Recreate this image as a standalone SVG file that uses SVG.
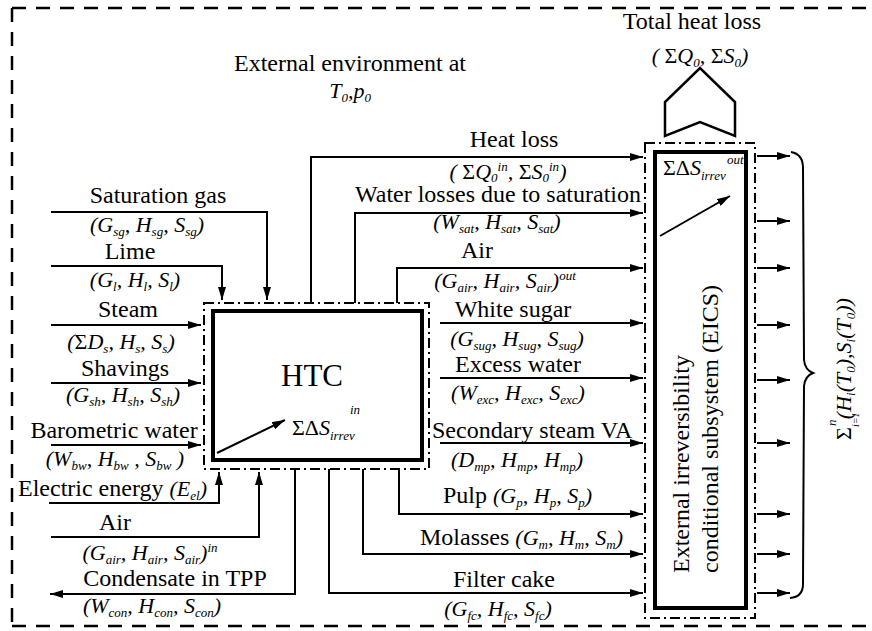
<svg xmlns="http://www.w3.org/2000/svg" width="872" height="631" viewBox="0 0 872 631">
<style>
.t{font-family:"Liberation Serif","Times New Roman","DejaVu Serif",serif;font-size:24px;fill:#000}
.f{font-family:"Liberation Serif","Times New Roman","DejaVu Serif",serif;font-size:22px;font-style:italic;fill:#000}
.s{font-size:13px}
.u{font-style:normal}
.c{fill:none;stroke:#000;stroke-width:2}
.dd{fill:none;stroke:#000;stroke-width:2;stroke-dasharray:10,4,2,4}
.thick{fill:none;stroke:#000;stroke-width:4}
</style>
<defs>
<marker id="ah" viewBox="0 0 13 8" refX="13" refY="4" markerWidth="13" markerHeight="8" orient="auto" markerUnits="userSpaceOnUse"><path d="M0,0 L13,4 L0,8 z" fill="#000"/></marker>
</defs>
<rect width="872" height="631" fill="#fff"/>
<path d="M12,8 H872 M12,8 V626 M12,626 H872" fill="none" stroke="#000" stroke-width="2.5" stroke-dasharray="14,10"/>

<text class="t" x="350" y="71" text-anchor="middle">External environment at</text>
<text class="f" x="350" y="98" text-anchor="middle">T<tspan class="s" dy="4">0</tspan><tspan dy="-4">,p</tspan><tspan class="s" dy="4">0</tspan></text>

<g id="total-heat-loss">
<text class="t" x="692" y="29" text-anchor="middle">Total heat loss</text>
<text class="f" x="700" y="63" text-anchor="middle">( <tspan class="u">Σ</tspan>Q<tspan class="s" dy="4">0</tspan><tspan dy="-4">, </tspan><tspan class="u">Σ</tspan>S<tspan class="s" dy="4">0</tspan><tspan dy="-4">)</tspan></text>
<polygon points="665,136 665,102 700,68 735,102 735,136 700,122" fill="none" stroke="#000" stroke-width="2.5"/>
</g>

<g id="HTC">
<rect class="dd" x="204" y="303" width="225" height="166"/>
<rect class="thick" x="213" y="311" width="209" height="149"/>
<text class="t" x="312" y="386" text-anchor="middle" style="font-size:31px">HTC</text>
<line class="c" x1="217" y1="453" x2="285" y2="420" marker-end="url(#ah)"/>
<text class="f" x="292" y="435"><tspan class="u">ΣΔ</tspan>S<tspan class="s" dy="5">irrev</tspan></text>
<text class="f s" x="350" y="414">in</text>
</g>

<g id="EICS">
<rect class="dd" x="645" y="143" width="110" height="475"/>
<rect class="thick" x="655" y="152" width="91" height="456"/>
<text class="f" x="663" y="175"><tspan class="u">ΣΔ</tspan>S<tspan class="s" dy="5">irrev</tspan></text>
<text class="f s" x="727" y="164">out</text>
<line class="c" x1="660" y1="236" x2="730" y2="196" marker-end="url(#ah)"/>
<text class="t" transform="translate(689,573) rotate(-90)">External irreversibility</text>
<text class="t" transform="translate(718,573) rotate(-90)">conditional subsystem (EICS)</text>
</g>

<g id="connectors">
<path class="c" d="M51,212 H267 V300" marker-end="url(#ah)"/>
<path class="c" d="M51,266 H222 V300" marker-end="url(#ah)"/>
<path class="c" d="M51,325 H201" marker-end="url(#ah)"/>
<path class="c" d="M51,383 H201" marker-end="url(#ah)"/>
<path class="c" d="M51,445 H201" marker-end="url(#ah)"/>
<path class="c" d="M49,503 H219 V472" marker-end="url(#ah)"/>
<path class="c" d="M51,537 H259 V472" marker-end="url(#ah)"/>
<path class="c" d="M295,469 V594 H50" marker-end="url(#ah)"/>
<path class="c" d="M311,303 V157 H643" marker-end="url(#ah)"/>
<path class="c" d="M355,303 V213 H643" marker-end="url(#ah)"/>
<path class="c" d="M397,303 V268 H643" marker-end="url(#ah)"/>
<path class="c" d="M440,323 H643" marker-end="url(#ah)"/>
<path class="c" d="M440,378 H643" marker-end="url(#ah)"/>
<path class="c" d="M440,443 H643" marker-end="url(#ah)"/>
<path class="c" d="M399,469 V514 H643" marker-end="url(#ah)"/>
<path class="c" d="M363,469 V554 H643" marker-end="url(#ah)"/>
<path class="c" d="M329,469 V593 H643" marker-end="url(#ah)"/>
<path class="c" d="M757,156 H790" marker-end="url(#ah)"/>
<path class="c" d="M757,221 H790" marker-end="url(#ah)"/>
<path class="c" d="M757,268 H790" marker-end="url(#ah)"/>
<path class="c" d="M757,325 H790" marker-end="url(#ah)"/>
<path class="c" d="M757,380 H790" marker-end="url(#ah)"/>
<path class="c" d="M757,443 H790" marker-end="url(#ah)"/>
<path class="c" d="M757,514 H790" marker-end="url(#ah)"/>
<path class="c" d="M757,554 H790" marker-end="url(#ah)"/>
<path class="c" d="M757,593 H790" marker-end="url(#ah)"/>
</g>

<g id="brace">
<path class="c" d="M791,152 Q803,154 803,168 L804,360 Q805,370 813,373 Q805,376 804,386 L803,584 Q803,597 790,598"/>
<g transform="translate(851,440) rotate(-90)">
<text class="f" x="0" y="0"><tspan class="u">Σ</tspan><tspan dx="8">(H</tspan><tspan class="s" dy="4">i</tspan><tspan dy="-4">(T</tspan><tspan class="s" dy="4">0</tspan><tspan dy="-4">),S</tspan><tspan class="s" dy="4">i</tspan><tspan dy="-4">(T</tspan><tspan class="s" dy="4">0</tspan><tspan dy="-4">))</tspan></text>
<text class="f s" x="14" y="-15">n</text>
<text class="f" x="13" y="8" style="font-size:10px">i=1</text>
</g>
</g>

<g id="inputs-labels">
<text class="t" x="158" y="203" text-anchor="middle">Saturation gas</text>
<text class="f" x="147" y="232" text-anchor="middle">(G<tspan class="s" dy="4">sg</tspan><tspan dy="-4">, H</tspan><tspan class="s" dy="4">sg</tspan><tspan dy="-4">, S</tspan><tspan class="s" dy="4">sg</tspan><tspan dy="-4">)</tspan></text>
<text class="t" x="130" y="259" text-anchor="middle">Lime</text>
<text class="f" x="135" y="287" text-anchor="middle">(G<tspan class="s" dy="4">l</tspan><tspan dy="-4">, H</tspan><tspan class="s" dy="4">l</tspan><tspan dy="-4">, S</tspan><tspan class="s" dy="4">l</tspan><tspan dy="-4">)</tspan></text>
<text class="t" x="128" y="317" text-anchor="middle">Steam</text>
<text class="f" x="121" y="349" text-anchor="middle">(<tspan class="u">Σ</tspan>D<tspan class="s" dy="4">s</tspan><tspan dy="-4">, H</tspan><tspan class="s" dy="4">s</tspan><tspan dy="-4">, S</tspan><tspan class="s" dy="4">s</tspan><tspan dy="-4">)</tspan></text>
<text class="t" x="125" y="376" text-anchor="middle">Shavings</text>
<text class="f" x="123" y="402" text-anchor="middle">(G<tspan class="s" dy="4">sh</tspan><tspan dy="-4">, H</tspan><tspan class="s" dy="4">sh</tspan><tspan dy="-4">, S</tspan><tspan class="s" dy="4">sh</tspan><tspan dy="-4">)</tspan></text>
<text class="t" x="114" y="438" text-anchor="middle">Barometric water</text>
<text class="f" x="115" y="466" text-anchor="middle">(W<tspan class="s" dy="4">bw</tspan><tspan dy="-4">, H</tspan><tspan class="s" dy="4">bw</tspan><tspan dy="-4"> , S</tspan><tspan class="s" dy="4">bw</tspan><tspan dy="-4"> )</tspan></text>
<text class="t" x="18" y="496">Electric energy <tspan class="f">(E</tspan><tspan class="f s" dy="4">el</tspan><tspan class="f" dy="-4">)</tspan></text>
<text class="t" x="115" y="530" text-anchor="middle">Air</text>
<text class="f" x="150" y="560" text-anchor="middle">(G<tspan class="s" dy="4">air</tspan><tspan dy="-4">, H</tspan><tspan class="s" dy="4">air</tspan><tspan dy="-4">, S</tspan><tspan class="s" dy="4">air</tspan><tspan dy="-4">)</tspan><tspan class="s" dy="-8">in</tspan></text>
<text class="t" x="175" y="586" text-anchor="middle">Condensate in TPP</text>
<text class="f" x="152" y="613" text-anchor="middle">(W<tspan class="s" dy="4">con</tspan><tspan dy="-4">, H</tspan><tspan class="s" dy="4">con</tspan><tspan dy="-4">, S</tspan><tspan class="s" dy="4">con</tspan><tspan dy="-4">)</tspan></text>
</g>

<g id="outputs-labels">
<text class="t" x="514" y="147" text-anchor="middle">Heat loss</text>
<text class="f" x="508" y="179" text-anchor="middle">( <tspan class="u">Σ</tspan>Q<tspan class="s" dy="3">0</tspan><tspan class="s" dy="-11">in</tspan><tspan dy="8">, </tspan><tspan class="u">Σ</tspan>S<tspan class="s" dy="3">0</tspan><tspan class="s" dy="-11">in</tspan><tspan dy="8">)</tspan></text>
<text class="t" x="498" y="202" text-anchor="middle">Water losses due to saturation</text>
<text class="f" x="497" y="229" text-anchor="middle">(W<tspan class="s" dy="4">sat</tspan><tspan dy="-4">, H</tspan><tspan class="s" dy="4">sat</tspan><tspan dy="-4">, S</tspan><tspan class="s" dy="4">sat</tspan><tspan dy="-4">)</tspan></text>
<text class="t" x="477" y="258" text-anchor="middle">Air</text>
<text class="f" x="505" y="288" text-anchor="middle">(G<tspan class="s" dy="4">air</tspan><tspan dy="-4">, H</tspan><tspan class="s" dy="4">air</tspan><tspan dy="-4">, S</tspan><tspan class="s" dy="4">air</tspan><tspan dy="-4">)</tspan><tspan class="s" dy="-8">out</tspan></text>
<text class="t" x="513" y="317" text-anchor="middle">White sugar</text>
<text class="f" x="517" y="346" text-anchor="middle">(G<tspan class="s" dy="4">sug</tspan><tspan dy="-4">, H</tspan><tspan class="s" dy="4">sug</tspan><tspan dy="-4">, S</tspan><tspan class="s" dy="4">sug</tspan><tspan dy="-4">)</tspan></text>
<text class="t" x="518" y="372" text-anchor="middle">Excess water</text>
<text class="f" x="518" y="400" text-anchor="middle">(W<tspan class="s" dy="4">exc</tspan><tspan dy="-4">, H</tspan><tspan class="s" dy="4">exc</tspan><tspan dy="-4">, S</tspan><tspan class="s" dy="4">exc</tspan><tspan dy="-4">)</tspan></text>
<text class="t" x="432" y="438">Secondary steam VA</text>
<text class="f" x="517" y="467" text-anchor="middle">(D<tspan class="s" dy="4">mp</tspan><tspan dy="-4">, H</tspan><tspan class="s" dy="4">mp</tspan><tspan dy="-4">, H</tspan><tspan class="s" dy="4">mp</tspan><tspan dy="-4">)</tspan></text>
<text class="t" x="443" y="503">Pulp <tspan class="f">(G</tspan><tspan class="f s" dy="4">p</tspan><tspan class="f" dy="-4">, H</tspan><tspan class="f s" dy="4">p</tspan><tspan class="f" dy="-4">, S</tspan><tspan class="f s" dy="4">p</tspan><tspan class="f" dy="-4">)</tspan></text>
<text class="t" x="420" y="545">Molasses <tspan class="f">(G</tspan><tspan class="f s" dy="4">m</tspan><tspan class="f" dy="-4">, H</tspan><tspan class="f s" dy="4">m</tspan><tspan class="f" dy="-4">, S</tspan><tspan class="f s" dy="4">m</tspan><tspan class="f" dy="-4">)</tspan></text>
<text class="t" x="504" y="587" text-anchor="middle">Filter cake</text>
<text class="f" x="498" y="616" text-anchor="middle">(G<tspan class="s" dy="4">fc</tspan><tspan dy="-4">, H</tspan><tspan class="s" dy="4">fc</tspan><tspan dy="-4">, S</tspan><tspan class="s" dy="4">fc</tspan><tspan dy="-4">)</tspan></text>
</g>
</svg>
